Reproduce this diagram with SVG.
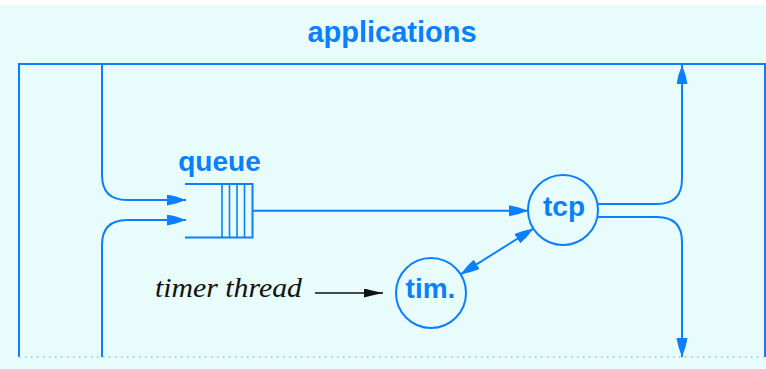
<svg xmlns="http://www.w3.org/2000/svg" width="766" height="369" viewBox="0 0 766 369">
<style>
.ln{fill:none;stroke:#0a7fff;stroke-width:2}
.thin{fill:none;stroke:#0a7fff;stroke-width:1.6}
.lbl{font-family:"Liberation Sans",Arial,sans-serif;font-weight:bold;fill:#0a7fff;text-anchor:middle}
</style>
<defs>
<marker id="ah" markerUnits="userSpaceOnUse" markerWidth="20" markerHeight="12" refX="19" refY="5.5" orient="auto-start-reverse" viewBox="0 0 20 12">
<path d="M0,0 L9,2 L19,5.5 L9,9 L0,11 z" fill="#0a7fff"/>
</marker>
<marker id="ahk" markerUnits="userSpaceOnUse" markerWidth="20" markerHeight="10" refX="19" refY="4.5" orient="auto" viewBox="0 0 20 10">
<path d="M0,0 L8,2 L19,4.5 L8,7 L0,9 z" fill="#111"/>
</marker>
</defs>
<rect x="0" y="0" width="766" height="369" fill="#ffffff"/>
<rect x="0" y="5" width="766" height="364" fill="#e8fcfc"/>
<text class="lbl" x="392" y="42" font-size="29">applications</text>
<g id="frame">
<path class="ln" d="M19,357 V64 H765 V357"/>
<path d="M19,357 H765" fill="none" stroke="#8cc6ff" stroke-width="1.5" stroke-dasharray="1.5 4.5"/>
</g>
<g id="queue">
<path class="ln" d="M185,184 H252.5 V237.5 H185"/>
<path class="thin" d="M222,184 V237.5 M229.5,184 V237.5 M237,184 V237.5 M244.5,184 V237.5"/>
<text class="lbl" x="219.5" y="171" font-size="28">queue</text>
</g>
<g id="tcp">
<circle class="ln" cx="563" cy="210" r="35"/>
<text class="lbl" x="564" y="216" font-size="28">tcp</text>
</g>
<g id="tim">
<circle class="ln" cx="431" cy="293" r="35"/>
<text class="lbl" x="430.5" y="298" font-size="28">tim.</text>
</g>
<g id="timer-thread">
<text x="155" y="297" font-family="'Liberation Serif','Times New Roman',serif" font-style="italic" font-size="28" fill="#111" textLength="147" lengthAdjust="spacingAndGlyphs">timer thread</text>
</g>
<g id="connectors">
<path class="ln" d="M102,64 V175 Q102,200 127,200 H186" marker-end="url(#ah)"/>
<path class="ln" d="M102,357 V245 Q102,220 127,220 H186" marker-end="url(#ah)"/>
<path class="ln" d="M252.5,210.7 H528" marker-end="url(#ah)"/>
<path class="ln" d="M460.6,274.4 L533.4,228.6" marker-start="url(#ah)" marker-end="url(#ah)"/>
<path class="ln" d="M598,204 H657 Q682,204 682,179 V65" marker-end="url(#ah)"/>
<path class="ln" d="M598,217 H657 Q682,217 682,242 V357" marker-end="url(#ah)"/>
<path d="M315,293 H383" fill="none" stroke="#111" stroke-width="1.5" marker-end="url(#ahk)"/>
</g>
</svg>
